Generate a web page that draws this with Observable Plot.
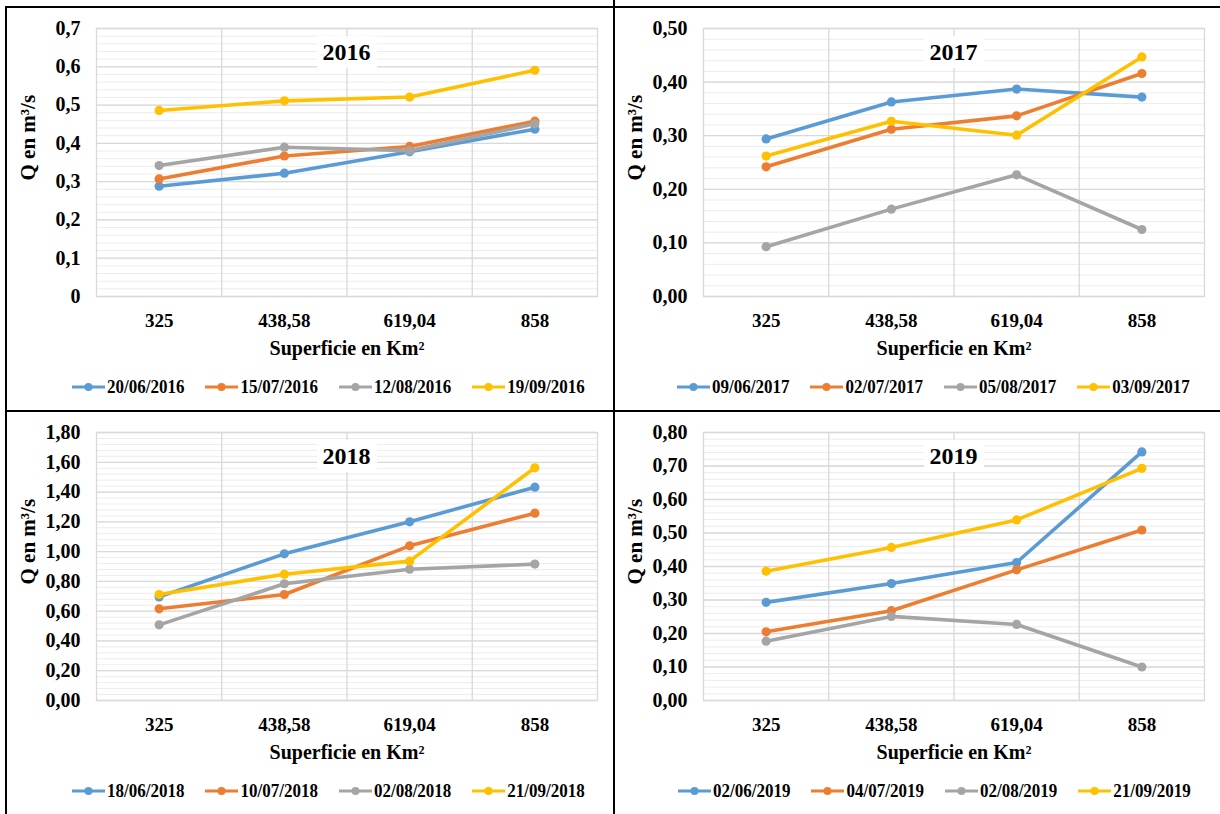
<!DOCTYPE html>
<html>
<head>
<meta charset="utf-8">
<script src="https://cdn.jsdelivr.net/npm/d3@7"></script>
<script src="https://cdn.jsdelivr.net/npm/@observablehq/plot@0.6"></script>
<style>
  html, body { margin: 0; padding: 0; background: #fff; }
  #root { position: relative; width: 1220px; height: 814px; overflow: hidden; font-family: "Liberation Serif", "Times New Roman", serif; font-weight: bold; }
  .panel { position: absolute; width: 610px; height: 405px; }
  .panel svg { position: absolute; left: 0; top: 0; }
  .title { position: absolute; background: #fff; font-size: 24px; padding: 4px 6px; transform: translate(-50%, -50%); line-height: 1; }
  .legend { position: absolute; display: flex; align-items: center; font-size: 17px; height: 22px; white-space: nowrap; }
  .legend .item { display: flex; align-items: center; margin-right: 21px; }
  .legend span { display: inline-block; transform: scaleY(1.1); }
  .legend svg { position: static; margin-right: 2px; }
  .bl { position: absolute; background: #000; }
</style>
</head>
<body>
<div id="root"></div>
<script>
// ---- data ----
const categories = ["325", "438,58", "619,04", "858"];
const colors = ["#5B9BD5", "#ED7D31", "#A5A5A5", "#FFC000"];

const dates2016 = ["20/06/2016", "15/07/2016", "12/08/2016", "19/09/2016"];
const values2016 = [
  [0.288, 0.322, 0.378, 0.437],
  [0.307, 0.367, 0.392, 0.458],
  [0.342, 0.390, 0.381, 0.451],
  [0.486, 0.511, 0.521, 0.591]
];
const dates2017 = ["09/06/2017", "02/07/2017", "05/08/2017", "03/09/2017"];
const values2017 = [
  [0.294, 0.363, 0.387, 0.372],
  [0.242, 0.312, 0.337, 0.416],
  [0.093, 0.163, 0.227, 0.125],
  [0.262, 0.327, 0.301, 0.447]
];
const dates2018 = ["18/06/2018", "10/07/2018", "02/08/2018", "21/09/2018"];
const values2018 = [
  [0.696, 0.985, 1.200, 1.433],
  [0.616, 0.712, 1.039, 1.258],
  [0.508, 0.784, 0.882, 0.916],
  [0.712, 0.848, 0.936, 1.563]
];
const dates2019 = ["02/06/2019", "04/07/2019", "02/08/2019", "21/09/2019"];
const values2019 = [
  [0.293, 0.349, 0.412, 0.742],
  [0.205, 0.268, 0.390, 0.509],
  [0.177, 0.251, 0.227, 0.100],
  [0.386, 0.457, 0.539, 0.693]
];

const fmt1 = d => d3.format("~g")(d).replace(".", ",");
const fmt2 = d => d3.format(".2f")(d).replace(".", ",");
const panels = [
  {year: "2016", left: 0,   top: 0,   legendLeft: 72, dates: dates2016, values: values2016, ymax: 0.7, major: 0.1, nMinor: 5, fmt: fmt1},
  {year: "2017", left: 607, top: 0,   legendLeft: 70, dates: dates2017, values: values2017, ymax: 0.5, major: 0.1, nMinor: 5, fmt: fmt2},
  {year: "2018", left: 0,   top: 404, legendLeft: 72, dates: dates2018, values: values2018, ymax: 1.8, major: 0.2, nMinor: 5, fmt: fmt2},
  {year: "2019", left: 607, top: 404, legendLeft: 71, dates: dates2019, values: values2019, ymax: 0.8, major: 0.1, nMinor: 5, fmt: fmt2}
];

const root = document.getElementById("root");
const W = 610, H = 405, mL = 96, mR = 13, mT = 28, mB = 109;

for (const p of panels) {
  const data = [];
  p.dates.forEach((date, s) => {
    p.values[s].forEach((q, i) => data.push({i, cat: categories[i], date, q}));
  });
  const nMaj = Math.round(p.ymax / p.major);
  const majorTicks = d3.range(0, nMaj + 1).map(k => +(k * p.major).toFixed(4));
  const minorTicks = d3.range(0, nMaj * p.nMinor + 1).map(k => +(k * p.major / p.nMinor).toFixed(4));

  const chart = Plot.plot({
    width: W, height: H,
    marginLeft: mL, marginRight: mR, marginTop: mT, marginBottom: mB,
    style: {fontFamily: "'Liberation Serif', 'Times New Roman', serif", fontWeight: "bold", fontSize: "20px", color: "#000", background: "transparent", overflow: "visible"},
    x: {domain: [-0.5, 3.5]},
    y: {domain: [0, p.ymax]},
    color: {domain: p.dates, range: colors},
    marks: [
      Plot.ruleY(minorTicks, {stroke: "#ececec", strokeWidth: 1}),
      Plot.ruleY(majorTicks, {stroke: "#d9d9d9", strokeWidth: 1.3}),
      Plot.ruleX([0.5, 1.5, 2.5], {stroke: "#d9d9d9", strokeWidth: 1.3}),
      Plot.frame({stroke: "#d9d9d9", strokeWidth: 1.3}),
      Plot.axisY(majorTicks, {tickSize: 0, tickPadding: 16, tickFormat: p.fmt, label: null, fontSize: 20, fontWeight: "bold"}),
      Plot.axisX([0, 1, 2, 3], {tickSize: 0, tickPadding: 17, tickFormat: i => categories[i], label: null, fontSize: 19, fontWeight: "bold"}),
      Plot.text(["Superficie en Km²"], {frameAnchor: "bottom", dy: 58, fontSize: 20, fontWeight: "bold", fill: "#000"}),
      Plot.text(["Q en m³/s"], {frameAnchor: "left", dx: -68, dy: 18, rotate: -90, fontSize: 21, fontWeight: "bold", fill: "#000"}),
      Plot.line(data, {x: "i", y: "q", z: "date", stroke: "date", strokeWidth: 3.6}),
      Plot.dot(data, {x: "i", y: "q", fill: "date", r: 4.6})
    ]
  });

  const div = document.createElement("div");
  div.className = "panel";
  div.style.left = p.left + "px";
  div.style.top = p.top + "px";
  div.appendChild(chart);

  const t = document.createElement("div");
  t.className = "title";
  t.textContent = p.year;
  t.style.left = (mL + (W - mL - mR) / 2) + "px";
  t.style.top = (mT + 24) + "px";
  div.appendChild(t);

  const lg = document.createElement("div");
  lg.className = "legend";
  lg.style.left = p.legendLeft + "px";
  lg.style.top = (387 - 11) + "px";
  p.dates.forEach((d, s) => {
    const it = document.createElement("div");
    it.className = "item";
    it.innerHTML = `<svg width="33" height="12"><line x1="0" y1="6" x2="33" y2="6" stroke="${colors[s]}" stroke-width="3"/><circle cx="16.5" cy="6" r="4" fill="${colors[s]}"/></svg><span>${d}</span>`;
    lg.appendChild(it);
  });
  div.appendChild(lg);
  root.appendChild(div);
}

// panel borders
function line(l, t, w, h) {
  const b = document.createElement("div");
  b.className = "bl";
  Object.assign(b.style, {left: l + "px", top: t + "px", width: w + "px", height: h + "px"});
  root.appendChild(b);
}
line(5, 6, 1215, 2);     // top
line(5, 6, 2, 808);      // left
line(613, 0, 2, 814);    // middle vertical
line(5, 410, 1215, 2);   // middle horizontal
</script>
</body>
</html>
